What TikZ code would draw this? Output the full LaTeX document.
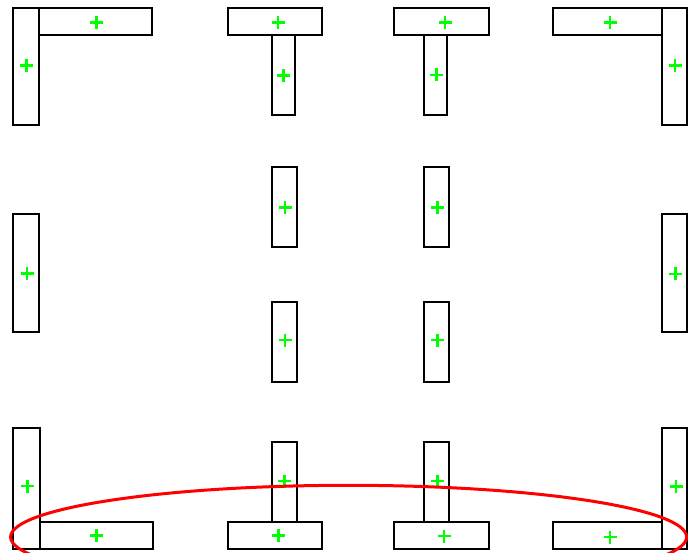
\documentclass[tikz,border=0pt]{standalone}
\definecolor{markgreen}{RGB}{0,255,0}
\definecolor{ringred}{RGB}{255,0,0}
\tikzset{
  bar/.style={draw=black, line width=2.4pt},
  plusmark/.style={draw=markgreen, line width=2.6pt},
  ring/.style={draw=ringred, line width=3pt},
}
\newcommand{\plusat}[2]{\draw[plusmark] (#1-6.5,#2) -- (#1+6.5,#2) (#1,#2-6.5) -- (#1,#2+6.5);}
\begin{document}
\begin{tikzpicture}[x=1pt, y=-1pt]
        \useasboundingbox (0,0) rectangle (688,553);
        \clip (0,0) rectangle (688,553);

        % top row: corners and T pieces
        \foreach \xa/\ya/\xb/\yb in {13/8/39/125, 39/8/152/35,
            228/8/322/35, 272/35/295/115,
            394/8/489/35, 424/35/447/115,
            553/8/662/35, 662/8/687/125}
          \draw[bar] (\xa,\ya) rectangle (\xb,\yb);

        % middle bars
        \foreach \xa/\ya/\xb/\yb in {272/167/297/247, 424/167/449/247,
            13/214/39/332, 662/214/687/332,
            272/302/297/382, 424/302/449/382}
          \draw[bar] (\xa,\ya) rectangle (\xb,\yb);

        % bottom row
        \foreach \xa/\ya/\xb/\yb in {13/428/40/549, 40/522/153/549,
            272/442/297/522, 228/522/322/549,
            424/442/449/522, 394/522/489/549,
            553/522/662/549, 662/428/687/549}
          \draw[bar] (\xa,\ya) rectangle (\xb,\yb);

        % markers
        \foreach \px/\py in {26.7/65.7, 96.7/22.7, 278/22.7, 283.5/75.5,
            445/22.7, 436.7/75, 610/22.7, 675/65.5,
            285/207.3, 437.3/207.3, 27/273.7, 675.3/274,
            285/340, 437.3/340,
            27.3/486, 96.7/535.7, 284.3/481, 278.3/535.7,
            437.3/481, 444/536, 676/486.3, 610/537}
          {\plusat{\px}{\py}}

        \draw[ring] (348.6,537) ellipse [x radius=338pt, y radius=51.7pt];
      \end{tikzpicture}
\end{document}
